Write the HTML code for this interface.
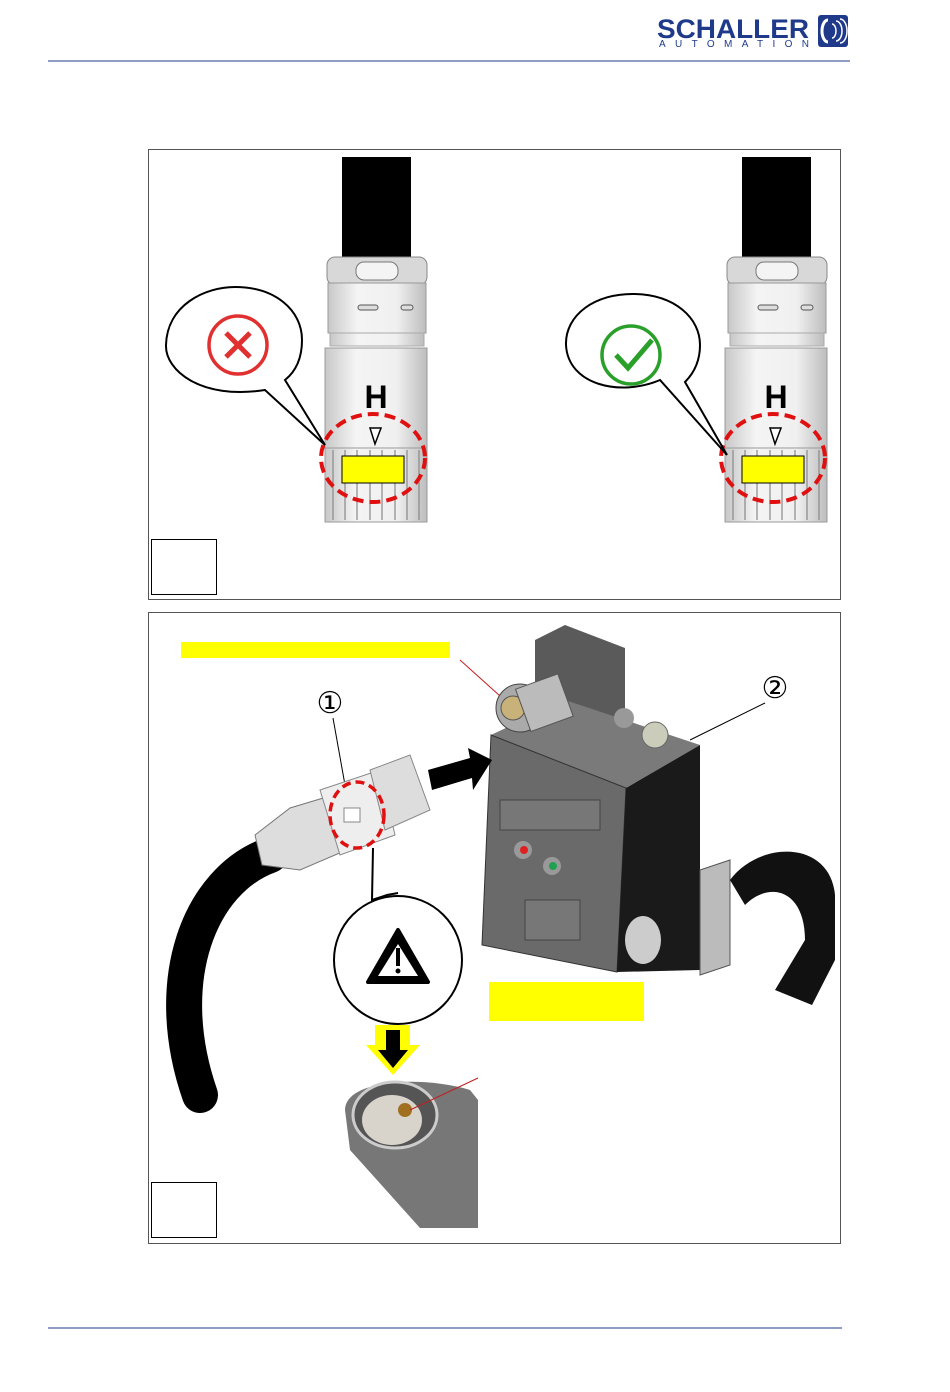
<!DOCTYPE html>
<html><head><meta charset="utf-8"><style>
body{margin:0;background:#fff;width:950px;height:1387px;overflow:hidden;font-family:"Liberation Sans",sans-serif}
</style></head><body>
<svg width="950" height="1387" viewBox="0 0 950 1387" xmlns="http://www.w3.org/2000/svg">
<!-- header -->
<text x="657" y="38" font-family="Liberation Sans" font-weight="bold" font-size="27" fill="#1f3a8a" textLength="152" lengthAdjust="spacingAndGlyphs">SCHALLER</text>
<text x="659" y="47" font-family="Liberation Sans" font-size="10" fill="#1f3a8a" textLength="150" lengthAdjust="spacing">AUTOMATION</text>
<rect x="818" y="15" width="30" height="32" rx="3" fill="#1f3a8a"/>
<path d="M828 20 a6 11 0 0 0 0 22" stroke="#fff" stroke-width="3" fill="none"/>
<path d="M832 24 a4 7 0 0 1 0 14 M836 21 a6 10 0 0 1 0 20 M840 19 a7 12 0 0 1 0 24" stroke="#fff" stroke-width="1.5" fill="none"/>
<line x1="48" y1="61" x2="850" y2="61" stroke="#1f3a8a" stroke-width="1"/>
<line x1="48" y1="1328" x2="842" y2="1328" stroke="#1f3a8a" stroke-width="1"/>

<!-- panel 1 -->
<rect x="148.5" y="149.5" width="692" height="450" fill="#fff" stroke="#555"/>
<defs>
<linearGradient id="cyl" x1="0" x2="1"><stop offset="0" stop-color="#c8c8c8"/><stop offset="0.3" stop-color="#f4f4f4"/><stop offset="0.7" stop-color="#f0f0f0"/><stop offset="1" stop-color="#bdbdbd"/></linearGradient>
<g id="conn">
<rect x="342" y="157" width="69" height="100" fill="#000"/>
<rect x="327" y="257" width="100" height="28" rx="8" fill="#d8d8d8" stroke="#888"/>
<rect x="356" y="262" width="42" height="18" rx="8" fill="#f4f4f4" stroke="#777"/>
<rect x="328" y="283" width="98" height="50" fill="url(#cyl)" stroke="#999"/>
<rect x="358" y="305" width="20" height="5" rx="2.5" fill="#ddd" stroke="#555"/>
<rect x="401" y="305" width="12" height="5" rx="2.5" fill="#ddd" stroke="#555"/>
<rect x="330" y="333" width="94" height="13" fill="url(#cyl)" stroke="#aaa"/>
<rect x="325" y="348" width="102" height="100" fill="url(#cyl)" stroke="#999"/>
<text x="376" y="408" text-anchor="middle" font-family="Liberation Sans" font-weight="bold" font-size="32" fill="#000">H</text>
<polygon points="370,428 381,428 375,444" fill="#fff" stroke="#000" stroke-width="1.5"/>
<rect x="325" y="448" width="102" height="74" fill="url(#cyl)" stroke="#999"/>
<g stroke="#888" stroke-width="1.2"><line x1="333" y1="450" x2="333" y2="520"/><line x1="345" y1="450" x2="345" y2="520"/><line x1="357" y1="450" x2="357" y2="520"/><line x1="370" y1="450" x2="370" y2="520"/><line x1="382" y1="450" x2="382" y2="520"/><line x1="395" y1="450" x2="395" y2="520"/><line x1="407" y1="450" x2="407" y2="520"/><line x1="419" y1="450" x2="419" y2="520"/></g>
<rect x="342" y="456" width="62" height="27" fill="#ffff00" stroke="#000"/>
<ellipse cx="373" cy="458" rx="52" ry="44" fill="none" stroke="#e01010" stroke-width="4" stroke-dasharray="11 6"/>
</g>
</defs>
<use href="#conn"/>
<use href="#conn" x="400"/>
<!-- bubble 1 -->
<path d="M265 390 C200 400 165 370 166 345 C167 305 205 287 235 287 C275 287 302 310 302 340 C302 360 295 372 285 380 L325 445 Z" fill="#fff" stroke="#000" stroke-width="2"/>
<circle cx="238" cy="345" r="29" fill="none" stroke="#e03030" stroke-width="3.5"/>
<path d="M226 333 L250 357 M250 333 L226 357" stroke="#e03030" stroke-width="5"/>
<!-- bubble 2 -->
<path d="M660 380 C620 397 568 385 566 345 C565 315 595 293 635 294 C675 295 700 318 700 345 C700 360 695 372 685 382 L727 455 Z" fill="#fff" stroke="#000" stroke-width="2"/>
<circle cx="631" cy="355" r="29" fill="none" stroke="#2aa02a" stroke-width="3.5"/>
<path d="M616 355 L628 368 L652 340" stroke="#2aa02a" stroke-width="5" fill="none"/>
<rect x="151.5" y="539.5" width="65" height="55" fill="#fff" stroke="#000"/>

<!-- panel 2 -->
<rect x="148.5" y="612.5" width="692" height="631" fill="#fff" stroke="#555"/>
<rect x="181" y="642" width="269" height="16" fill="#ffff00"/>
<line x1="460" y1="660" x2="510" y2="705" stroke="#c02020"/>
<!-- device -->
<polygon points="535,640 565,625 625,648 625,720 570,730 535,700" fill="#5a5a5a"/>
<polygon points="491,735 565,700 700,745 626,788" fill="#7a7a7a"/>
<polygon points="491,735 626,788 617,972 482,945" fill="#6a6a6a" stroke="#333"/>
<polygon points="626,788 700,745 700,970 617,972" fill="#1a1a1a"/>
<rect x="500" y="800" width="100" height="30" fill="#777" stroke="#444"/>
<circle cx="523" cy="850" r="9" fill="#999"/><circle cx="524" cy="850" r="4" fill="#e02020"/>
<circle cx="552" cy="866" r="9" fill="#999"/><circle cx="553" cy="866" r="4" fill="#20a050"/>
<rect x="525" y="900" width="55" height="40" fill="#777" stroke="#444"/>
<ellipse cx="643" cy="940" rx="18" ry="24" fill="#ccc"/>
<path d="M700 870 L730 860 L730 965 L700 975 Z" fill="#bbb" stroke="#555"/>
<path d="M730 880 C760 840 830 840 835 895 L835 960 L812 1005 L775 990 L805 940 C805 890 770 880 745 905 Z" fill="#111"/>
<circle cx="520" cy="708" r="24" fill="#aaa" stroke="#444"/>
<circle cx="513" cy="708" r="12" fill="#c9b27a" stroke="#555"/>
<rect x="522" y="680" width="45" height="45" fill="#bbb" stroke="#555" transform="rotate(-20 545 703)"/>
<circle cx="624" cy="718" r="10" fill="#999"/><circle cx="655" cy="735" r="13" fill="#ccb" stroke="#666"/>
<text x="775" y="698" text-anchor="middle" font-size="30" font-family="DejaVu Sans">②</text>
<line x1="765" y1="703" x2="690" y2="740" stroke="#000"/>
<text x="330" y="713" text-anchor="middle" font-size="30" font-family="DejaVu Sans">①</text>
<line x1="333" y1="718" x2="345" y2="785" stroke="#000"/>
<!-- arrow -->
<polygon points="428,770 470,758 468,748 492,760 473,790 472,778 432,790" fill="#000"/>
<!-- cable -->
<path d="M270 855 C200 880 160 980 200 1095" stroke="#000" stroke-width="36" fill="none" stroke-linecap="round"/>
<!-- plug -->
<polygon points="255,835 290,808 350,790 370,840 300,870 262,865" fill="#ddd" stroke="#777"/>
<polygon points="320,790 380,770 395,835 340,855" fill="#eee" stroke="#888"/>
<polygon points="370,770 410,755 430,810 385,830" fill="#ddd" stroke="#888"/>
<rect x="344" y="808" width="16" height="14" fill="#fff" stroke="#888"/>
<ellipse cx="357" cy="815" rx="27" ry="33" fill="none" stroke="#e01010" stroke-width="3.5" stroke-dasharray="9 5"/>
<path d="M373 848 L372 900 L387 895 L398 893" stroke="#000" stroke-width="2" fill="none"/>
<circle cx="398" cy="960" r="64" fill="#fff" stroke="#000" stroke-width="2"/>
<polygon points="398,930 428,982 368,982" fill="#000" stroke="#000" stroke-width="4" stroke-linejoin="round"/>
<polygon points="398,944 418,976 378,976" fill="#fff"/>
<rect x="396" y="948" width="4" height="18" fill="#000"/><circle cx="398" cy="971" r="2.5" fill="#000"/>
<rect x="489" y="982" width="155" height="39" fill="#ffff00"/>
<polygon points="375,1025 410,1025 410,1045 420,1045 393,1075 366,1045 375,1045" fill="#ffff00"/>
<polygon points="386,1030 400,1030 400,1050 408,1050 393,1068 378,1050 386,1050" fill="#000"/>
<!-- photo -->
<path d="M345 1110 C345 1080 420 1075 470 1090 L478 1100 L478 1228 L420 1228 L350 1150 Z" fill="#777"/>
<ellipse cx="395" cy="1115" rx="42" ry="33" fill="#555" stroke="#ccc" stroke-width="3"/>
<ellipse cx="392" cy="1120" rx="30" ry="25" fill="#d8d4cc"/>
<circle cx="405" cy="1110" r="7" fill="#a07020"/>
<line x1="478" y1="1078" x2="410" y2="1110" stroke="#c02020"/>
<rect x="151.5" y="1182.5" width="65" height="55" fill="#fff" stroke="#000"/>
</svg>
</body></html>
